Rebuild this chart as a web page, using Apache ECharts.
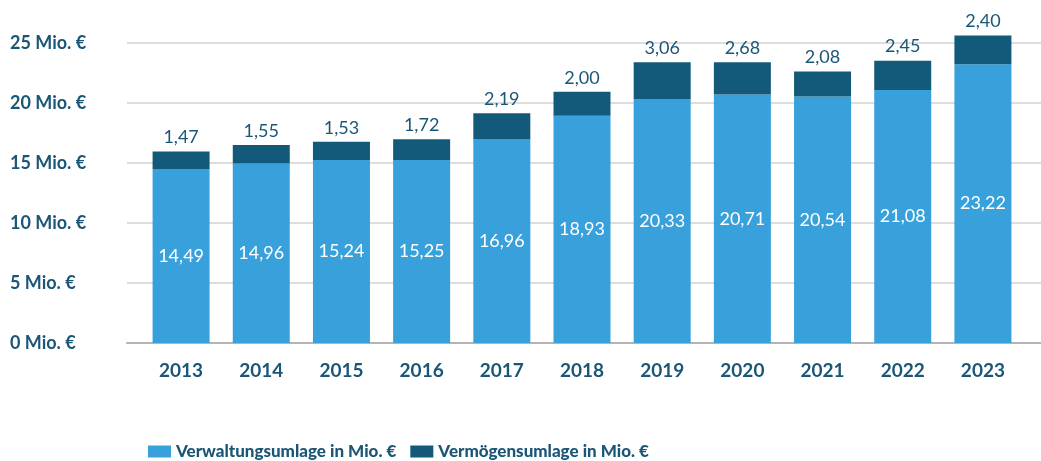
<!DOCTYPE html>
<html>
<head>
<meta charset="utf-8">
<script src="https://cdn.jsdelivr.net/npm/echarts@6/dist/echarts.min.js"></script>
<style>
  html, body { margin: 0; padding: 0; background: #fff; }
  #chart { width: 1041px; height: 461px; }
</style>
</head>
<body>
<div id="chart"></div>
<script>
const years = ["2013", "2014", "2015", "2016", "2017", "2018", "2019", "2020", "2021", "2022", "2023"];
const verwaltung = [14.49, 14.96, 15.24, 15.25, 16.96, 18.93, 20.33, 20.71, 20.54, 21.08, 23.22];
const vermoegen = [1.47, 1.55, 1.53, 1.72, 2.19, 2.00, 3.06, 2.68, 2.08, 2.45, 2.40];
const yTicks = [0, 5, 10, 15, 20, 25];

const darkText = "#1a5676";
const fontFam = "Lato, 'Open Sans', sans-serif";
const fmt = (v) => v.toFixed(2).replace(".", ",");

// 12 px pro Einheit, Achse bis 27,5 damit 2023 über die 25er-Linie ragt
const yMax = 27.5;

const chart = echarts.init(document.getElementById("chart"));

const option = {
  animation: false,
  textStyle: { fontFamily: fontFam },
  grid: [
    // Hintergrund-Raster (breiter als die Balkenfläche)
    { left: 127, right: 0, top: 13, bottom: 118 },
    // Balken
    { left: 141, right: 18, top: 13, bottom: 118 }
  ],
  legend: {
    top: 438,
    left: 143,
    itemWidth: 23,
    itemHeight: 12,
    itemGap: 14,
    icon: "rect",
    textStyle: { color: darkText, fontSize: 17, fontWeight: 900, fontFamily: "Lato" },
    data: ["Verwaltungsumlage in Mio. €", "Vermögensumlage in Mio. €"]
  },
  xAxis: [
    {
      gridIndex: 0, type: "value", min: 0, max: 1,
      axisLine: { show: true, lineStyle: { color: "#b4b4b4", width: 2 } },
      axisTick: { show: false }, axisLabel: { show: false }, splitLine: { show: false }
    },
    {
      gridIndex: 1, type: "category", data: years,
      axisLine: { show: false }, axisTick: { show: false },
      axisLabel: { color: darkText, fontSize: 19, fontWeight: "bold", margin: 18, fontFamily: fontFam }
    }
  ],
  yAxis: [
    {
      gridIndex: 0, type: "value", min: 0, max: yMax, interval: 5,
      axisLine: { show: false }, axisTick: { show: false },
      splitLine: { showMaxLine: false, lineStyle: { color: "#d2d2d2", width: 1.5 } },
      axisLabel: {
        color: darkText, fontSize: 18, fontWeight: "bold", align: "left", margin: 117, fontFamily: fontFam,
        showMaxLabel: false,
        formatter: (v) => (yTicks.includes(v) ? v + " Mio. €" : "")
      }
    },
    {
      gridIndex: 1, type: "value", min: 0, max: yMax, interval: 5,
      show: false
    }
  ],
  series: [
    {
      name: "Verwaltungsumlage in Mio. €",
      type: "bar", stack: "u", xAxisIndex: 1, yAxisIndex: 1,
      barWidth: 57,
      itemStyle: { color: "#38a1db" },
      label: {
        show: true, position: "inside", color: "#fff", fontSize: 18, fontFamily: fontFam,
        formatter: (p) => fmt(p.value)
      },
      data: verwaltung
    },
    {
      name: "Vermögensumlage in Mio. €",
      type: "bar", stack: "u", xAxisIndex: 1, yAxisIndex: 1,
      barWidth: 57,
      itemStyle: { color: "#135a7a" },
      label: {
        show: true, position: "top", distance: 5, color: darkText, fontSize: 18, fontFamily: fontFam,
        formatter: (p) => fmt(p.value)
      },
      data: vermoegen
    }
  ]
};

chart.setOption(option);
</script>
</body>
</html>
